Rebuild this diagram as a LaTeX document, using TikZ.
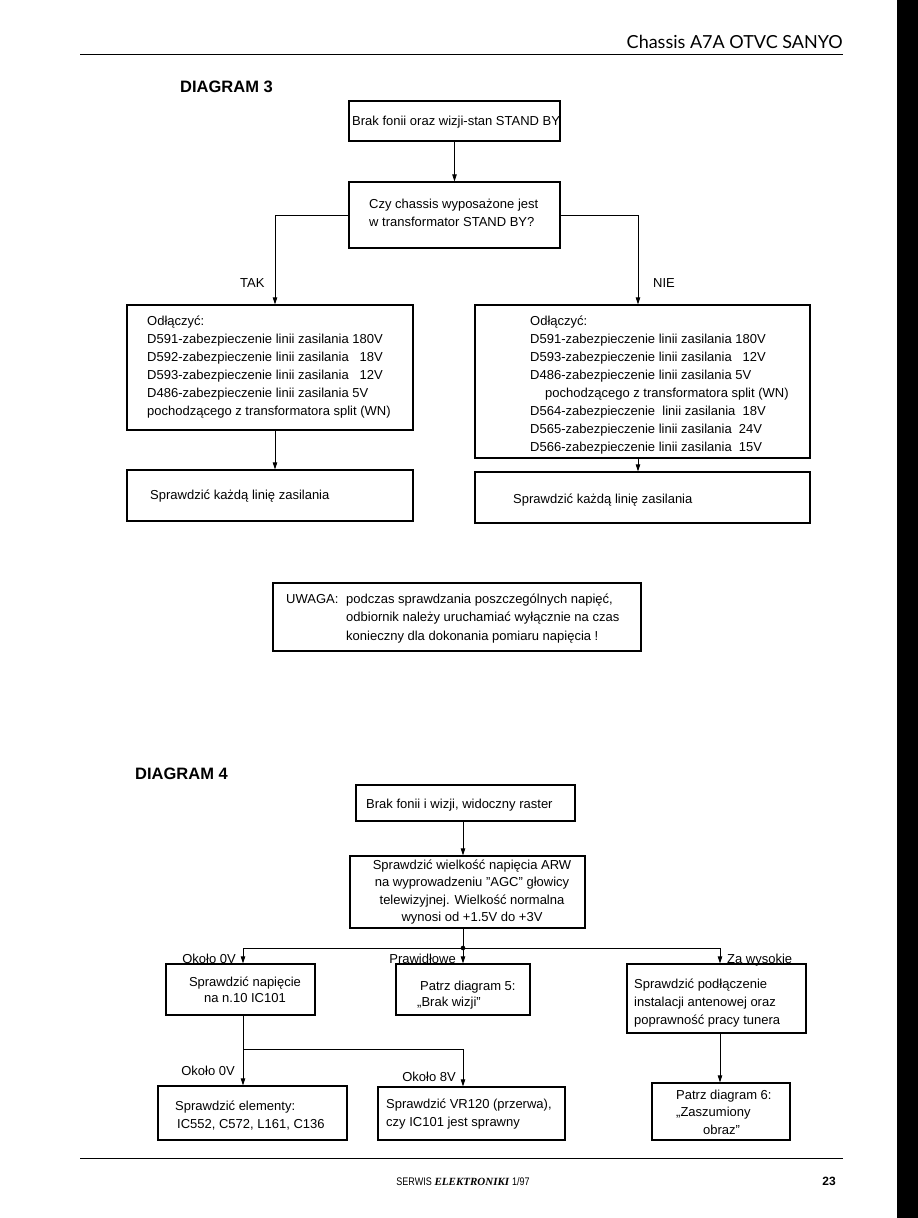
\documentclass[tikz,border=0pt]{standalone}
\usepackage{fontspec}
\setmainfont{Liberation Sans}
\newfontfamily\hdrfont{Lato}
\newfontfamily\serifbi{Liberation Serif}
\newfontfamily\narrowfont{Liberation Sans}[FakeStretch=0.82]
\usetikzlibrary{arrows.meta,fit}
\newcommand\rv[1]{\makebox[2.335em][r]{#1}}
\begin{document}
% multi-line text nodes are anchored at the baseline of their LAST line
\begin{tikzpicture}[x=1pt,y=-1pt,
 box/.style={draw, line width=1.3pt, inner sep=0pt},
 txt/.style={inner sep=0pt, anchor=base west, align=left, font=\fontsize{13}{18}\selectfont},
 ctxt/.style={inner sep=0pt, anchor=base, align=center, font=\fontsize{13}{18}\selectfont},
 lab/.style={inner sep=0pt, font=\fontsize{13}{18}\selectfont},
 title/.style={inner sep=0pt, anchor=base west, font=\bfseries\fontsize{16.5}{18}\selectfont},
 conn/.style={line width=0.8pt},
 arr/.style={conn, -{Triangle[length=7pt,width=4.5pt]}},
]
\useasboundingbox (0,0) rectangle (918,1218);
\fill[white] (0,0) rectangle (918,1218);
\fill[black] (897,0) rectangle (918,1218);

% header / footer
\node[anchor=base east, inner sep=0pt, font=\hdrfont\fontsize{18}{20}\selectfont] (hd) at (843,48) {Chassis A7A OTVC SANYO};
\draw[line width=0.9pt] (80,54) -- (843,54);
\draw[line width=1pt] (80,1158) -- (843,1158);
\node[anchor=base, inner sep=0pt] (ft) at (463,1185) {{\narrowfont\fontsize{11}{12}\selectfont SERWIS} {\serifbi\bfseries\itshape\fontsize{11}{12}\selectfont ELEKTRONIKI} {\narrowfont\fontsize{11}{12}\selectfont 1/97}};
\node[anchor=base east, inner sep=0pt, font=\bfseries\fontsize{12}{14}\selectfont] (pg) at (836,1185) {23};

% ---------------- DIAGRAM 3
\node[title] (d3) at (180,92) {DIAGRAM 3};
\node[box, fit={(349,101) (560,141)}] (a) {};
\node[txt] (ta) at (352,125) {Brak fonii oraz wizji-stan STAND BY};
\node[box, fit={(349,182) (560,248)}] (b) {};
\node[txt] (tb) at (369,226) {Czy chassis wyposażone jest\\w transformator STAND BY?};
\node[box, fit={(127,305) (413,430)}] (c) {};
\node[txt] (tc) at (147,415) {Odłączyć:\\
D591-zabezpieczenie linii zasilania 180V\\
D592-zabezpieczenie linii zasilania \rv{18V}\\
D593-zabezpieczenie linii zasilania \rv{12V}\\
D486-zabezpieczenie linii zasilania 5V\\
pochodzącego z transformatora split (WN)};
\node[box, fit={(127,470) (413,521)}] (e) {};
\node[txt] (te) at (150,499) {Sprawdzić każdą linię zasilania};
\node[box, fit={(475,305) (810,458)}] (d) {};
\node[txt] (td) at (530,451) {Odłączyć:\\
D591-zabezpieczenie linii zasilania 180V\\
D593-zabezpieczenie linii zasilania \rv{12V}\\
D486-zabezpieczenie linii zasilania 5V\\
\hspace*{15pt}pochodzącego z transformatora split (WN)\\
D564-zabezpieczenie~ linii zasilania~ 18V\\
D565-zabezpieczenie linii zasilania~ 24V\\
D566-zabezpieczenie linii zasilania~ 15V};
\node[box, fit={(475,472) (810,523)}] (f) {};
\node[txt] (tf) at (513,503) {Sprawdzić każdą linię zasilania};
\node[lab, anchor=base west] (tak) at (240,287) {TAK};
\node[lab, anchor=base west] (nie) at (653,287) {NIE};

\draw[arr] (a) -- (b);
\draw[arr] (b.west) -| ([xshift=5pt]c.north);
\draw[arr] (b.east) -| ([xshift=-4.5pt]d.north);
\draw[arr] ([xshift=5pt]c.south) -- ([xshift=5pt]e.north);
\draw[arr] ([xshift=-4.5pt]d.south) -- ([xshift=-4.5pt]f.north);

\node[box, fit={(273,583) (641,651)}] (w) {};
\node[txt, font=\fontsize{13}{18.5}\selectfont] (tw) at (286,640) {\makebox[60pt][l]{UWAGA:}podczas sprawdzania poszczególnych napięć,\\
\hspace*{60pt}odbiornik należy uruchamiać wyłącznie na czas\\
\hspace*{60pt}konieczny dla dokonania pomiaru napięcia !};

% ---------------- DIAGRAM 4
\node[title] (d4) at (135,779) {DIAGRAM 4};
\node[box, fit={(356,785) (575,821)}] (g) {};
\node[txt] (tg) at (366,808) {Brak fonii i wizji, widoczny raster};
\node[box, fit={(350,856) (585,928)}] (h) {};
\node[ctxt, font=\fontsize{13}{17.5}\selectfont] (th) at (472,921.5) {Sprawdzić wielkość napięcia ARW\\na wyprowadzeniu \symbol{34}AGC\symbol{34} głowicy\\telewizyjnej. Wielkość normalna\\wynosi od +1.5V do +3V};
\node[box, fit={(166,964) (315,1015)}] (i) {};
\node[ctxt, font=\fontsize{13}{16}\selectfont] (ti) at (245,1002) {Sprawdzić napięcie\\na n.10 IC101};
\node[box, fit={(396,964) (530,1015)}] (jj) {};
\node[txt, font=\fontsize{13}{16}\selectfont] (tj) at (417,1006) {\hspace*{3pt}Patrz diagram 5:\\„Brak wizji”};
\node[box, fit={(627,964) (806,1033)}] (k) {};
\node[txt] (tk) at (634,1024) {Sprawdzić podłączenie\\instalacji antenowej oraz\\poprawność pracy tunera};
\node[box, fit={(158,1086) (347,1140)}] (l) {};
\node[txt] (tl) at (175,1128) {Sprawdzić elementy:\\\hspace*{2pt}IC552, C572, L161, C136};
\node[box, fit={(378,1087) (565,1140)}] (m) {};
\node[txt] (tm) at (386,1126) {Sprawdzić VR120 (przerwa),\\czy IC101 jest sprawny};
\node[box, fit={(652,1083) (790,1140)}] (n) {};
\node[txt, font=\fontsize{13}{17.5}\selectfont] (tn) at (676,1134) {Patrz diagram 6:\\„Zaszumiony\\\hspace*{27pt}obraz”};

\node[lab, anchor=base east] (l1) at (236,963) {Około 0V};
\node[lab, anchor=base east] (l2) at (456,963) {Prawidłowe};
\node[lab, anchor=base west] (l3) at (727,963) {Za wysokie};
\node[lab, anchor=base east] (l4) at (235,1075) {Około 0V};
\node[lab, anchor=base east] (l5) at (456,1081) {Około 8V};

\coordinate (j) at (463,948);
\coordinate (jl) at (243,948);
\coordinate (jr) at (720,948);
\coordinate (kl) at (243,1049);
\coordinate (kr) at (463,1049);
\draw[arr] (g.south -| j) -- (h.north -| j);
\draw[conn] (h.south -| j) -- (j);
\fill (j) circle (2.3);
\draw[conn] (jl) -- (jr);
\draw[arr] (jl) -- (i.north -| jl);
\draw[arr] (j) -- (jj.north -| j);
\draw[arr] (jr) -- (k.north -| jr);
\draw[conn] (i.south -| kl) -- (kl) -- (kr);
\draw[arr] (kl) -- (l.north -| kl);
\draw[arr] (kr) -- (m.north -| kr);
\draw[arr] (k.south -| jr) -- (n.north -| jr);
\end{tikzpicture}
\end{document}
